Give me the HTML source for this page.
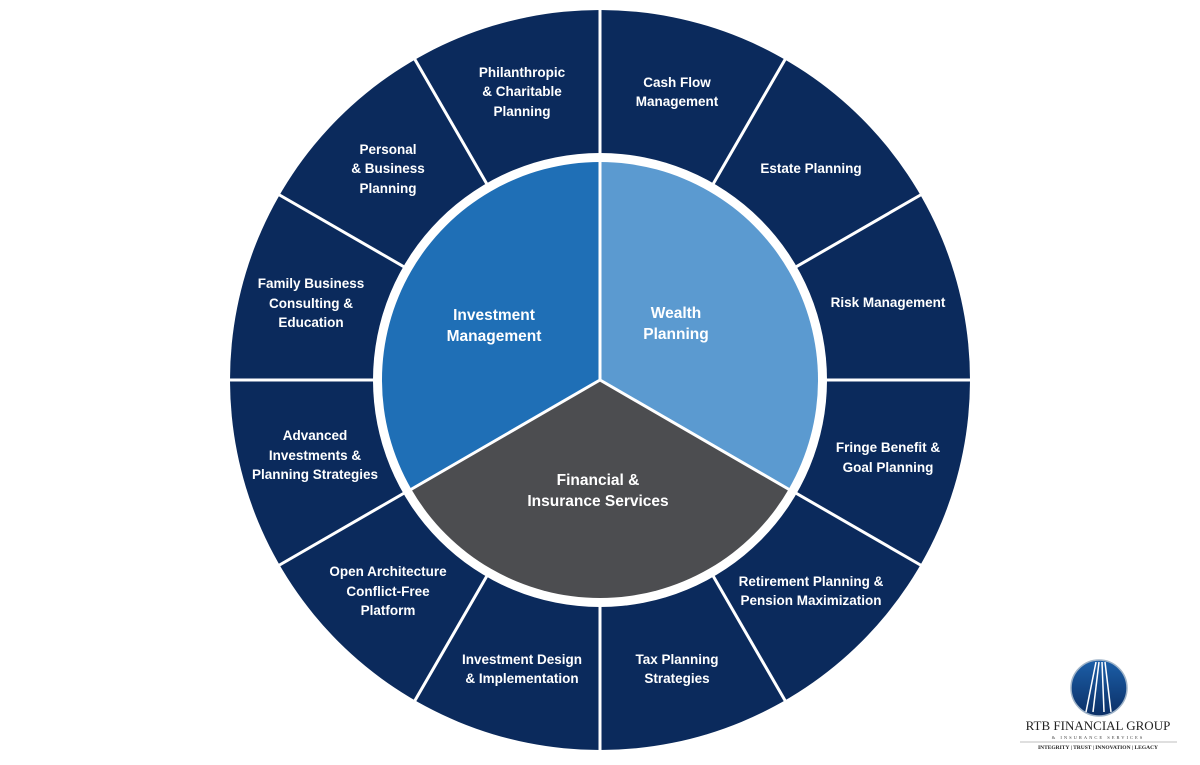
<!DOCTYPE html>
<html><head><meta charset="utf-8"><style>
html,body{margin:0;padding:0;background:#fff;width:1200px;height:765px;overflow:hidden}
svg text{font-family:"Liberation Sans","DejaVu Sans",sans-serif;font-weight:bold;fill:#fff;text-anchor:middle}
.o{font-size:13.5px}
.i{font-size:15.5px}
</style></head><body>
<svg width="1200" height="765" viewBox="0 0 1200 765">
<circle cx="600" cy="380" r="370" fill="#0b2a5c"/>
<g stroke="#fff" stroke-width="3">
<line x1="600" y1="380" x2="600" y2="5"/>
<line x1="600" y1="380" x2="787.5" y2="55.2"/>
<line x1="600" y1="380" x2="924.8" y2="192.5"/>
<line x1="600" y1="380" x2="975" y2="380"/>
<line x1="600" y1="380" x2="924.8" y2="567.5"/>
<line x1="600" y1="380" x2="787.5" y2="704.8"/>
<line x1="600" y1="380" x2="600" y2="755"/>
<line x1="600" y1="380" x2="412.5" y2="704.8"/>
<line x1="600" y1="380" x2="275.2" y2="567.5"/>
<line x1="600" y1="380" x2="225" y2="380"/>
<line x1="600" y1="380" x2="275.2" y2="192.5"/>
<line x1="600" y1="380" x2="412.5" y2="55.2"/>
</g>
<circle cx="600" cy="380" r="227" fill="#fff"/>
<path d="M600 380 L600 162 A218 218 0 0 0 411.2 489 Z" fill="#1f6fb6"/>
<path d="M600 380 L600 162 A218 218 0 0 1 788.8 489 Z" fill="#5b9ad0"/>
<path d="M600 380 L788.8 489 A218 218 0 0 1 411.2 489 Z" fill="#4c4d50"/>
<g stroke="#fff" stroke-width="3">
<line x1="600" y1="380" x2="600" y2="160"/>
<line x1="600" y1="380" x2="790" y2="490"/>
<line x1="600" y1="380" x2="410" y2="490"/>
</g>
<text class="i" x="494" y="320">Investment</text>
<text class="i" x="494" y="341">Management</text>
<text class="i" x="676" y="318">Wealth</text>
<text class="i" x="676" y="339">Planning</text>
<text class="i" x="598" y="485">Financial &amp;</text>
<text class="i" x="598" y="506">Insurance Services</text>
<g class="o">
<text x="522" y="77">Philanthropic</text><text x="522" y="96">&amp; Charitable</text><text x="522" y="116">Planning</text>
<text x="677" y="87">Cash Flow</text><text x="677" y="106">Management</text>
<text x="811" y="173">Estate Planning</text>
<text x="888" y="307">Risk Management</text>
<text x="888" y="452">Fringe Benefit &amp;</text><text x="888" y="472">Goal Planning</text>
<text x="811" y="586">Retirement Planning &amp;</text><text x="811" y="605">Pension Maximization</text>
<text x="677" y="664">Tax Planning</text><text x="677" y="683">Strategies</text>
<text x="522" y="664">Investment Design</text><text x="522" y="683">&amp; Implementation</text>
<text x="388" y="576">Open Architecture</text><text x="388" y="596">Conflict-Free</text><text x="388" y="615">Platform</text>
<text x="315" y="440">Advanced</text><text x="315" y="460">Investments &amp;</text><text x="315" y="479">Planning Strategies</text>
<text x="311" y="288">Family Business</text><text x="311" y="308">Consulting &amp;</text><text x="311" y="327">Education</text>
<text x="388" y="154">Personal</text><text x="388" y="173">&amp; Business</text><text x="388" y="193">Planning</text>
</g>
<defs><linearGradient id="lg" x1="0" y1="0" x2="0" y2="1"><stop offset="0" stop-color="#1c5fa8"/><stop offset="1" stop-color="#0b2f66"/></linearGradient></defs>
<circle cx="1099" cy="688" r="28" fill="url(#lg)" stroke="#9fb3c8" stroke-width="1.5"/>
<g stroke="#fff" stroke-width="1.5">
<line x1="1096" y1="662" x2="1086" y2="712"/><line x1="1099" y1="662" x2="1093" y2="712"/>
<line x1="1102" y1="662" x2="1104" y2="712"/><line x1="1105" y1="662" x2="1111" y2="712"/>
</g>
<text x="1098" y="730" style="font-family:'Liberation Serif',serif;font-weight:normal;fill:#222;font-size:13px">RTB FINANCIAL GROUP</text>
<text x="1098" y="739" style="font-family:'Liberation Serif',serif;font-weight:normal;fill:#444;font-size:4.5px;letter-spacing:2px">&amp; INSURANCE SERVICES</text>
<line x1="1020" y1="742" x2="1177" y2="742" stroke="#aaa" stroke-width="0.7"/>
<text x="1098" y="749" style="font-family:'Liberation Serif',serif;fill:#222;font-size:5.5px">INTEGRITY | TRUST | INNOVATION | LEGACY</text>
</svg>
</body></html>
